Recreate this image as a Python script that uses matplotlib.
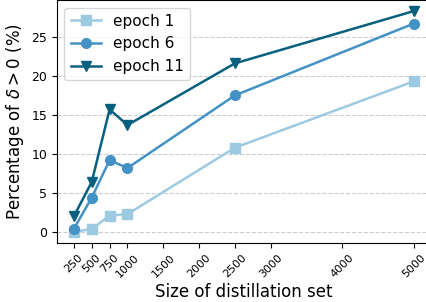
import numpy as np
import matplotlib.pyplot as plt

# data
sizes = [250, 500, 750, 1000, 2500, 5000]
epoch1 = [0.0, 0.4, 2.1, 2.3, 10.8, 19.3]
epoch6 = [0.4, 4.4, 9.2, 8.2, 17.5, 26.7]
epoch11 = [2.0, 6.4, 15.7, 13.7, 21.6, 28.3]
xticks = [250, 500, 750, 1000, 1500, 2000, 2500, 3000, 4000, 5000]

fig = plt.figure(figsize=(4.27, 3.02), dpi=100)
ax = fig.add_axes([0.133, 0.195, 0.876, 0.805])

ax.plot(sizes, epoch1, marker='s', color='#9ecae1', lw=1.8, ms=7, label='epoch 1')
ax.plot(sizes, epoch6, marker='o', color='#4292c6', lw=1.8, ms=7, label='epoch 6')
ax.plot(sizes, epoch11, marker='v', color='#08607f', lw=1.8, ms=7, label='epoch 11')

ax.set_xticks(xticks)
ax.set_xticklabels([str(t) for t in xticks], rotation=45, fontsize=8)
ax.tick_params(axis='y', labelsize=9)
ax.set_yticks([0, 5, 10, 15, 20, 25])
ax.grid(axis='y', linestyle='--', color='#cccccc', lw=0.8)
ax.set_axisbelow(True)
ax.spines['right'].set_visible(False)
ax.set_xlabel('Size of distillation set', fontsize=12, labelpad=2)
ax.set_ylabel(r'Percentage of $\delta>0$ (%)', fontsize=12)
ax.legend(fontsize=11, loc='upper left')

fig.savefig('out.png', dpi=100)
